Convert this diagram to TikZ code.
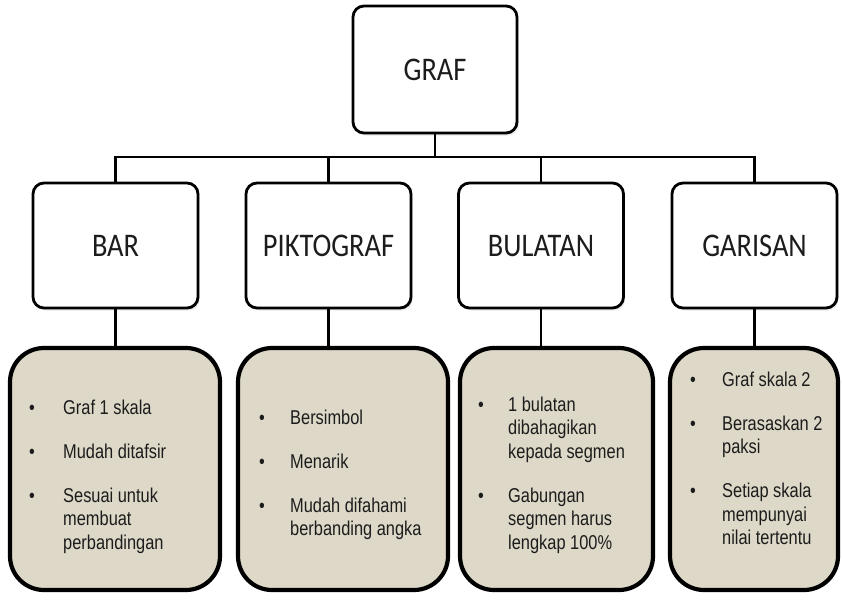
\documentclass[tikz,border=0pt]{standalone}
\usepackage{fontspec}
\setmainfont{Liberation Sans}
\newfontfamily\headfont[FakeStretch=0.86]{Carlito}
\newfontfamily\bodyfont[FakeStretch=0.82]{Liberation Sans}
\usetikzlibrary{shadows}
\definecolor{beigefill}{RGB}{221,216,199}
\definecolor{inkc}{RGB}{28,28,28}
\newcommand{\blist}[2]{\begin{tabular}[t]{@{}p{#1}@{}l@{}}#2\end{tabular}}
\begin{document}
\begin{tikzpicture}[x=1pt,y=-1pt,
  headbox/.style={draw=black, line width=2.8pt, rounded corners=11pt, fill=white,
    minimum width=165pt, minimum height=125pt, inner sep=0pt,
    text height=21.3pt, text depth=0pt,
    font=\headfont\fontsize{33}{38}\selectfont, text=inkc,
    drop shadow={shadow xshift=1.5pt, shadow yshift=-2.5pt, opacity=0.18, fill=gray}},
  detailbox/.style={draw=black, line width=4.2pt, rounded corners=34pt, fill=beigefill,
    minimum height=242pt, inner sep=0pt},
  link/.style={draw=black, line width=2.4pt},
  listtext/.style={anchor=base west, inner sep=0pt,
    font=\bodyfont\fontsize{20}{23.5}\selectfont, text=inkc}]
\useasboundingbox[fill=white] (0,0) rectangle (842,599);

% top node
\node[headbox, minimum width=164pt, minimum height=127pt] (graf) at (435,69.5) {GRAF};

% second level
\node[headbox] (bar) at (115.5,245.5) {BAR};
\node[headbox] (pikto) at (328.5,245.5) {PIKTOGRAF};
\node[headbox] (bulatan) at (541,245.5) {BULATAN};
\node[headbox] (garisan) at (754.5,245.5) {GARISAN};

% detail boxes
\node[detailbox, minimum width=210pt] (bard) at (115,469) {};
\node[detailbox, minimum width=210pt] (piktod) at (343,469) {};
\node[detailbox, minimum width=193pt] (bulatand) at (556.5,469) {};
\node[detailbox, minimum width=168pt] (garisand) at (754,469) {};

% connectors
\coordinate (hub) at (435,157);
\draw[link] (graf.south) -- (hub);
\draw[link] (bar.north) |- (hub) -| (garisan.north);
\draw[link] (pikto.north) -- (pikto.north |- hub);
\draw[link] (bulatan.north) -- (bulatan.north |- hub);
\draw[link] (bar.south) -- (bar.south |- bard.north);
\draw[link] (pikto.south) -- (pikto.south |- piktod.north);
\draw[link] (bulatan.south) -- (bulatan.south |- bulatand.north);
\draw[link] (garisan.south) -- (garisan.south |- garisand.north);

% lists
\node[listtext] (barlist) at (29,414) {\blist{34pt}{%
  • & Graf 1 skala \\[20.5pt]
  • & Mudah ditafsir \\[20.5pt]
  • & Sesuai untuk \\
    & membuat \\
    & perbandingan}};
\node[listtext] (piktolist) at (259,424) {\blist{31pt}{%
  • & Bersimbol \\[20.5pt]
  • & Menarik \\[20.5pt]
  • & Mudah difahami \\
    & berbanding angka}};
\node[listtext] (bulatanlist) at (478,411) {\blist{30pt}{%
  • & 1 bulatan \\
    & dibahagikan \\
    & kepada segmen \\[20.5pt]
  • & Gabungan \\
    & segmen harus \\
    & lengkap 100\%}};
\node[listtext] (garisanlist) at (690,386) {\blist{32pt}{%
  • & Graf skala 2 \\[20.5pt]
  • & Berasaskan 2 \\
    & paksi \\[20.5pt]
  • & Setiap skala \\
    & mempunyai \\
    & nilai tertentu}};
\end{tikzpicture}
\end{document}
